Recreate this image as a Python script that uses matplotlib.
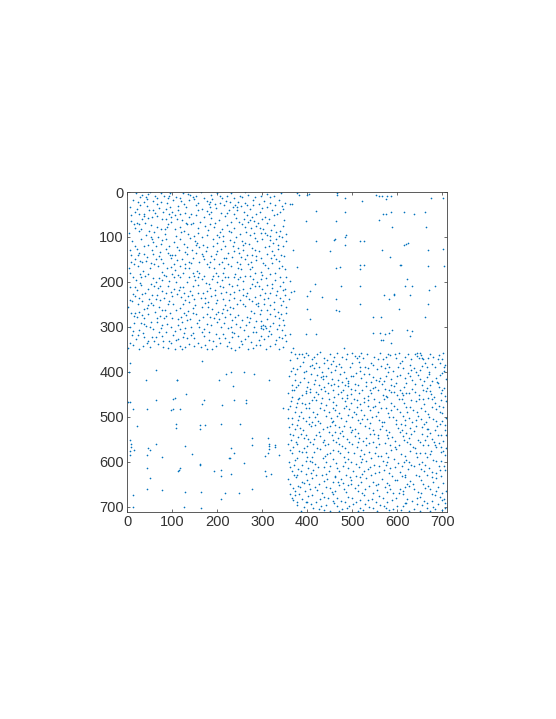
import numpy as np
import matplotlib
matplotlib.use('Agg')
import matplotlib.pyplot as plt

plt.rcParams['font.family'] = ['Liberation Sans', 'DejaVu Sans']

N = 711
xticks = [0, 100, 200, 300, 400, 500, 600, 700]
yticks = [0, 100, 200, 300, 400, 500, 600, 700]

# sparse off-diagonal blocks, read point by point
top_right = [(376,2),(381,7),(400,6),(404,5),(467,2),(467,7),(484,13),(521,21),(552,6),(560,8),(567,8),(577,8),(585,8),(674,13),
(701,13),(574,16),(361,26),(367,27),(419,42),(484,44),(569,48),(574,50),(586,44),(615,44),(637,50),(661,44),(397,64),(464,64),
(559,63),(589,77),(663,77),(486,96),(484,101),(461,104),(459,106),(419,110),(517,108),(525,110),(623,113),(619,115),(615,117),
(484,117),(368,130),(450,131),(565,130),(668,130),(701,126),(584,144),(376,167),(464,170),(472,167),(518,162),(518,172),(527,163),
(605,162),(609,162),(668,164),(704,164),(361,197),(621,193),(417,205),(474,210),(517,210),(618,210),(633,210),(684,210),(670,217),
(405,219),(370,219),(363,222),(592,226),(593,229),(570,230),(628,230),(399,231),(432,234),(463,238),(581,237),(359,237),(669,249),
(517,250),(399,260),(463,263),(470,264),(604,260),(547,278),(564,278),(661,278),(405,282),(361,315),(397,315),(419,315),(547,313),
(562,314),(573,315),(581,313),(588,307),(621,306),(633,308),(628,320),(564,329),(569,329),(585,336),(368,347),(481,347)]

bottom_left = [(6,381),(64,396),(4,401),(167,376),(219,404),(230,399),(259,399),(281,404),(41,418),(110,418),(111,418),(204,417),
(315,418),(234,431),(130,450),(2,467),(6,467),(64,463),(102,459),(105,458),(170,463),(167,471),(210,473),(238,462),(263,462),
(264,469),(347,480),(13,483),(43,483),(96,485),(101,483),(117,483),(108,516),(108,524),(21,521),(162,517),(162,526),(172,517),
(209,516),(250,516),(6,551),(8,559),(8,567),(63,559),(47,568),(50,573),(15,573),(7,576),(7,584),(44,585),(77,588),(129,564),
(144,583),(278,546),(278,563),(313,546),(314,561),(314,564),(314,572),(328,563),(329,567),(313,581),(307,587),(336,584),(230,570),
(236,580),(226,592),(228,592),(259,603),(161,604),(161,607),(208,617),(192,621),(208,632),(230,627),(306,621),(308,632),(319,627),
(117,613),(115,617),(112,621),(44,614),(50,636),(43,660),(77,662),(13,674),(129,667),(164,667),(217,670),(248,668),(278,660),
(209,683),(126,701),(164,703),(13,701)]

# dense diagonal blocks, estimated by eye
upper_left = [
(47,5),(51,1),(75,3),(82,8),(95,2),(108,11),(134,4),(139,7),(163,1),(171,13),(199,3),(207,9),(231,2),(238,14),(262,1),(268,6),(311,4),(318,12),(342,2),
(13,17),(29,11),(36,23),(58,19),(66,14),(88,24),(101,17),(119,21),(126,27),(149,16),(156,25),(183,22),(189,16),(214,28),(219,19),(245,23),(253,31),(279,18),(292,26),(304,21),(329,29),(336,17),(351,24),
(5,34),(21,38),(43,32),(49,41),(71,36),(79,45),(94,33),(113,39),(131,34),(142,48),(167,37),(176,42),(197,35),(208,46),(226,39),(234,33),(259,44),(272,37),(286,48),(299,36),(322,41),(347,38),
(9,52),(26,49),(33,61),(55,56),(62,47),(85,59),(105,52),(122,63),(136,55),(153,51),(161,66),(187,57),(203,62),(216,54),(241,58),(249,67),(266,52),(281,64),(307,55),(315,61),(333,50),(349,63),
(14,71),(18,79),(39,68),(52,74),(74,83),(90,72),(97,66),(116,77),(127,86),(146,70),(172,75),(180,85),(195,68),(222,73),(236,81),(255,71),(274,79),(291,69),(301,83),(326,74),(340,86),
(3,91),(25,87),(41,96),(60,89),(68,101),(83,93),(109,97),(120,90),(139,103),(158,91),(165,99),(191,105),(206,88),(212,97),(229,106),(251,94),(263,89),(283,102),(296,91),(317,98),(331,105),(353,93),
(11,110),(31,104),(46,117),(57,111),(77,107),(92,119),(103,112),(125,115),(133,122),(150,109),(169,117),(178,123),(200,113),(218,120),(238,111),(246,124),(270,116),(288,110),(305,122),(324,113),(345,119),
(6,130),(22,126),(36,138),(54,128),(72,133),(86,126),(100,139),(115,130),(143,128),(152,136),(174,131),(186,142),(209,127),(224,135),(233,144),(258,129),(276,140),(293,132),(310,137),(335,127),(348,143),
(16,148),(28,153),(44,145),(63,150),(80,157),(96,147),(111,152),(129,159),(147,146),(160,155),(170,150),(193,148),(204,160),(220,147),(243,156),(261,148),(269,161),(285,151),(302,158),(319,146),(338,154),
(4,169),(24,164),(35,176),(50,170),(69,165),(78,178),(98,167),(107,173),(123,181),(137,168),(155,175),(181,166),(198,179),(215,170),(231,164),(240,183),(253,172),(278,166),(297,177),(313,169),(329,181),(344,165),
(12,188),(20,195),(40,186),(56,192),(64,201),(87,186),(93,197),(118,190),(132,199),(148,187),(166,194),(175,203),(190,186),(211,196),(226,204),(236,189),(256,198),(272,186),(289,200),(308,192),(321,204),(352,190),
(7,212),(30,206),(45,216),(59,209),(76,221),(91,208),(104,215),(124,211),(140,219),(157,206),(168,224),(184,213),(205,209),(219,222),(244,207),(248,217),(267,225),(283,209),(300,216),(316,224),(339,208),(346,218),
(17,231),(33,226),(48,238),(67,228),(73,241),(99,232),(110,227),(128,240),(144,229),(163,235),(179,244),(194,230),(213,238),(228,227),(250,240),(264,232),(277,243),(294,228),(312,236),(327,245),(350,230),
(2,256),(23,250),(38,260),(53,247),(70,255),(84,262),(101,249),(117,257),(135,264),(151,252),(173,247),(188,259),(202,266),(217,251),(235,258),(257,249),(274,264),(290,254),(304,248),(325,261),(341,252),
(8,268),(14,275),(27,267),(37,281),(47,271),(61,267),(81,279),(95,270),(112,283),(130,274),(145,268),(159,285),(177,272),(192,280),(210,270),(232,284),(247,273),(265,277),(282,269),(298,286),(318,272),(336,281),(353,268),
(5,300),(15,292),(26,306),(42,297),(65,289),(75,303),(89,294),(106,308),(121,290),(141,299),(154,291),(171,305),(187,295),(199,289),(223,302),(242,293),(260,307),(271,290),(297,297),(302,295),(307,297),(308,302),(302,305),(296,302),(323,291),(332,304),(349,296),
(10,317),(19,326),(34,313),(55,322),(71,312),(79,331),(102,318),(113,327),(127,313),(149,324),(165,312),(182,329),(196,316),(216,325),(237,313),(252,331),(268,319),(286,312),(303,327),(320,316),(343,325),
(1,347),(13,340),(25,349),(43,335),(51,344),(68,338),(90,346),(97,336),(116,342),(122,350),(138,337),(164,345),(172,339),(189,349),(207,336),(221,343),(239,352),(255,338),(280,346),(295,340),(309,350),(328,337),(347,345),
(19,3),(33,7),(61,10),(124,2),(152,8),(187,6),(222,10),(255,11),(296,8),(28,30),(65,27),(112,31),(137,18),(195,26),(228,22),(265,29),(310,33),(343,31),(18,44),(67,53),(99,44),(129,46),(158,41),(184,33),(221,47),(243,41),(276,56),(295,45),(339,45),
(8,64),(45,58),(78,60),(111,60),(141,72),(171,56),(193,78),(211,82),(230,67),(259,60),(286,76),(311,70),(347,76),(30,82),(66,77),(107,83),(135,94),(176,96),(199,95),(241,100),(272,96),(294,80),(320,85),(338,97),
(17,119),(37,121),(63,121),(87,104),(118,104),(159,122),(190,119),(213,110),(254,108),(278,124),(300,104),(334,117),(352,110),(9,141),(42,153),(70,143),(106,141),(121,149),(165,138),(183,156),(214,146),(237,131),(265,139),(298,146),(322,132),(342,141),
(15,159),(33,156),(60,160),(88,168),(117,165),(136,155),(160,179),(192,170),(224,160),(251,161),(283,181),(305,163),(336,170),(6,180),(47,183),(82,184),(113,185),(145,180),(170,186),(202,186),(223,188),(262,186),(296,194),(340,188),
(28,203),(52,205),(78,195),(109,201),(127,225),(151,196),(181,205),(200,199),(233,208),(258,216),(276,205),(310,206),(332,220),(13,226),(40,225),(63,238),(86,225),(119,233),(156,224),(186,231),(208,225),(226,240),(271,238),(291,246),(330,230),
(11,243),(32,243),(58,252),(92,243),(109,263),(138,245),(167,255),(197,246),(222,262),(243,248),(285,250),(311,262),(345,243),(22,278),(52,290),(73,275),(100,281),(133,285),(153,272),(184,278),(204,283),(228,272),(255,285),(287,286),(328,276),(347,285),
(31,292),(58,305),(85,312),(118,304),(147,313),(176,294),(209,299),(233,312),(250,300),(279,312),(315,310),(336,296),(12,310),(45,332),(63,322),(93,332),(133,325),(158,335),(203,324),(226,333),(246,320),(274,334),(298,321),(336,322),(352,332),
# second pass, clumps the first pass missed
(41,12),(44,15),(90,14),(93,10),(145,12),(178,20),(181,26),(211,14),(250,8),(284,11),(325,9),(24,22),(74,22),(116,14),(240,28),(243,33),(262,24),(318,25),
(36,48),(38,53),(92,50),(96,55),(118,48),(182,48),(186,45),(237,50),(268,66),(272,62),(299,60),(325,52),(56,40),(86,38),(152,30),(205,24),(280,30),
(22,68),(25,72),(48,86),(84,82),(88,77),(130,68),(133,72),(156,80),(183,72),(226,86),(230,90),(262,78),(306,92),(310,96),(330,90),(344,100),
(52,100),(55,104),(74,115),(110,122),(148,97),(152,118),(155,114),(204,101),(234,120),(258,118),(262,114),(282,92),(314,120),(318,106),
(24,140),(27,135),(58,138),(90,135),(94,140),(128,133),(132,138),(168,142),(196,138),(200,132),(248,136),(252,144),(284,130),(287,142),(326,140),(330,150),
(8,155),(52,158),(75,150),(104,160),(128,168),(142,158),(176,160),(210,156),(212,180),(246,168),(272,172),(275,156),(316,182),(322,158),(350,172),
(28,182),(31,188),(70,192),(100,182),(104,190),(138,190),(156,188),(188,194),(218,190),(246,194),(250,188),(280,194),(300,185),(328,196),(346,200),
(18,212),(22,218),(68,214),(72,208),(114,218),(118,212),(146,208),(176,220),(194,218),(212,212),(238,222),(272,214),(292,210),(306,224),(322,214),(350,215),
(26,236),(54,230),(82,236),(96,222),(134,232),(148,238),(172,236),(200,240),(236,236),(256,230),(284,234),(304,238),(340,236),(6,240),
(44,258),(46,252),(76,262),(90,250),(124,250),(126,270),(146,258),(180,255),(212,260),(228,255),(262,254),(296,262),(318,252),(334,266),(352,256),
(18,270),(32,274),(66,280),(86,275),(120,278),(140,282),(168,278),(198,272),(218,278),(240,278),(272,280),(294,272),(310,282),(342,272),
(36,294),(50,300),(78,296),(96,300),(112,296),(128,302),(160,300),(182,312),(214,292),(230,300),(264,296),(282,300),(318,298),(344,306),
(24,318),(38,322),(60,332),(76,320),(108,330),(124,322),(142,318),(170,320),(190,332),(212,316),(232,322),(262,326),(292,330),(312,320),(330,328),(350,318),
(6,335),(34,342),(80,344),(106,349),(128,345),(148,342),(178,348),(198,342),(230,347),(248,344),(268,350),(286,340),(318,342),(338,348)
]

lower_right = [
(364,356),(372,359),(396,357),(402,363),(421,360),(428,356),(451,361),(466,358),(477,366),(499,357),(506,364),(533,359),(548,367),(561,357),(584,362),(604,358),(617,366),(643,357),(652,362),(673,360),(679,367),(702,358),
(361,373),(377,369),(390,378),(411,371),(419,381),(438,368),(458,375),(471,383),(487,371),(515,377),(523,369),(541,380),(569,372),(578,382),(596,369),(611,376),(629,384),(648,370),(661,379),(690,371),(707,384),
(368,391),(383,386),(398,397),(425,389),(433,401),(446,392),(463,387),(481,399),(494,390),(509,402),(528,388),(554,394),(564,386),(590,398),(601,389),(624,403),(638,392),(655,387),(670,399),(684,390),(699,402),
(359,410),(373,405),(392,413),(408,404),(416,418),(441,408),(455,416),(473,405),(491,419),(502,409),(520,414),(537,404),(559,420),(574,409),(587,416),(606,407),(633,418),(646,406),(667,412),(677,421),(694,407),(709,416),
(366,428),(384,422),(399,434),(414,426),(430,437),(447,424),(468,431),(478,423),(497,437),(513,428),(531,422),(545,435),(567,427),(581,439),(598,424),(615,433),(639,426),(657,440),(672,429),(688,422),(703,436),
(357,446),(371,441),(389,452),(405,444),(423,450),(440,442),(459,455),(475,445),(489,451),(506,441),(525,457),(542,447),(556,441),(575,453),(593,444),(610,459),(627,446),(649,452),(664,443),(681,456),(697,447),
(363,464),(379,459),(394,472),(411,462),(431,468),(449,460),(464,474),(483,465),(503,459),(518,472),(535,463),(551,476),(570,461),(585,470),(603,460),(620,477),(641,464),(659,471),(676,461),(692,476),(708,465),
(356,483),(375,478),(387,490),(404,481),(422,494),(436,484),(457,479),(470,492),(492,483),(510,478),(527,495),(539,485),(563,479),(579,491),(599,482),(612,497),(634,485),(652,479),(668,494),(686,483),(700,492),
(367,502),(381,498),(397,509),(417,500),(429,513),(452,503),(466,497),(486,510),(499,500),(517,514),(532,504),(553,498),(571,511),(590,501),(608,515),(625,503),(645,498),(663,512),(679,504),(695,516),
(360,522),(376,518),(391,530),(409,520),(426,533),(443,523),(461,517),(477,531),(495,522),(512,535),(529,519),(547,528),(566,520),(582,534),(601,524),(618,518),(637,532),(654,523),(673,536),(689,521),(705,530),
(369,541),(385,537),(402,549),(420,540),(437,552),(454,541),(472,536),(488,550),(507,542),(523,554),(540,538),(558,547),(576,539),(594,553),(613,543),(630,537),(647,551),(665,542),(682,555),(698,540),
(358,561),(374,556),(393,568),(412,559),(428,571),(445,560),(463,555),(484,570),(500,561),(519,574),(536,557),(552,566),(572,558),(586,573),(604,563),(622,556),(640,570),(658,562),(675,575),(693,558),(709,569),
(365,580),(382,576),(399,588),(415,578),(434,591),(450,581),(469,575),(481,589),(504,580),(522,593),(538,577),(556,586),(574,579),(592,594),(609,583),(628,576),(644,590),(661,581),(680,595),(696,578),
(359,600),(372,596),(389,607),(407,598),(424,611),(441,599),(458,594),(479,609),(496,600),(514,612),(531,597),(549,606),(568,598),(583,613),(602,603),(619,596),(636,610),(655,601),(671,614),(687,598),(704,608),
(366,620),(380,615),(396,627),(413,617),(432,630),(448,619),(465,614),(485,628),(501,620),(516,633),(534,616),(550,625),(570,618),(589,632),(606,622),(624,615),(642,629),(660,620),(678,634),(694,617),
(358,638),(375,634),(392,646),(410,636),(427,649),(444,638),(461,633),(480,647),(497,639),(513,651),(530,635),(546,644),(565,637),(581,651),(600,641),(616,634),(635,648),(652,639),(669,653),(686,636),(702,646),
(368,657),(379,653),(394,664),(416,655),(433,668),(451,657),(470,652),(487,666),(505,658),(521,670),(537,654),(555,663),(573,656),(590,670),(607,660),(626,653),(645,667),(662,658),(677,672),(691,655),(708,665),
(362,672),(365,681),(372,674),(388,682),(401,676),(419,688),(436,677),(456,672),(474,686),(491,678),(509,690),(525,673),(543,683),(560,675),(578,689),(597,679),(613,672),(633,686),(650,677),(666,691),(684,674),(699,684),
(376,695),(392,701),(408,694),(425,705),(442,696),(459,692),(476,704),(493,697),(512,708),(528,693),(546,702),(562,695),(582,707),(599,698),(617,692),(636,704),(654,696),(672,708),(690,694),(705,702),
(381,361),(415,367),(444,374),(489,361),(520,358),(556,372),(594,360),(623,359),(658,372),(693,362),(378,394),(405,386),(437,379),(461,395),(500,379),(534,392),(573,392),(607,381),(631,395),(665,389),(695,380),
(392,401),(421,406),(453,400),(485,413),(516,397),(546,411),(580,400),(616,414),(641,399),(671,405),(704,398),(373,418),(401,422),(434,415),(452,429),(484,428),(507,426),(541,422),(562,414),(592,431),(620,424),(650,415),(685,414),
(375,433),(407,437),(438,433),(456,440),(491,431),(522,440),(551,433),(573,437),(606,441),(632,437),(666,436),(692,434),(366,455),(398,447),(414,455),(432,458),(469,449),(498,449),(534,453),(568,451),(599,452),(620,447),(657,460),(674,449),(705,454),
(377,469),(403,470),(441,474),(476,458),(496,470),(525,467),(559,466),(592,475),(615,468),(648,461),(684,470),(372,490),(396,481),(413,489),(449,489),(481,481),(519,485),(546,478),(574,481),(605,490),(628,478),(661,487),(702,478),
(357,503),(390,503),(410,512),(441,498),(474,503),(508,493),(522,505),(560,506),(582,499),(616,507),(641,507),(671,499),(708,503),(372,526),(403,516),(435,527),(455,512),(471,522),(505,527),(539,513),(561,527),(597,515),(628,525),(659,515),(684,528),(699,510),
(380,545),(396,540),(414,548),(448,533),(469,546),(498,534),(515,547),(548,537),(580,547),(606,533),(625,547),(666,527),(690,540),(363,552),(405,555),(439,563),(470,560),(492,556),(531,562),(545,555),(583,562),(615,551),(650,556),(669,563),(702,553),
(369,567),(388,578),(421,569),(456,574),(473,581),(511,566),(527,582),(564,587),(597,571),(634,567),(650,580),(687,566),(707,585),(378,592),(410,600),(439,586),(463,603),(490,593),(508,604),(541,591),(577,600),(614,601),(648,605),(666,590),(698,597),
(361,612),(386,620),(402,614),(436,612),(471,620),(491,613),(526,621),(559,610),(595,612),(630,607),(653,615),(685,625),(371,628),(399,639),(420,630),(456,644),(475,637),(508,632),(541,630),(576,647),(611,631),(629,642),(665,629),(697,632),
(384,655),(405,660),(441,655),(462,664),(498,650),(528,660),(552,652),(584,659),(618,656),(637,659),(672,660),(700,668),(381,672),(411,673),(447,681),(466,680),(499,680),(534,685),(568,681),(604,670),(622,682),(659,686),(695,677),(707,692),
(400,690),(430,697),(466,698),(502,694),(536,700),(571,697),(608,707),(644,693),(679,699),(700,707),(386,708),(451,708),(518,702),(555,709),(590,704),(625,709),(665,703),
# second pass, clumps the first pass missed
(640,360),(644,364),(650,358),(655,368),(388,360),(392,366),(460,366),(510,370),(514,365),(575,366),(580,359),(630,372),(668,368),(700,372),
(410,385),(414,392),(452,382),(475,388),(518,390),(546,385),(582,388),(612,392),(650,396),(678,382),(704,390),(364,398),(430,412),(434,408),
(468,418),(498,410),(526,404),(552,418),(570,420),(600,410),(628,408),(660,420),(690,424),(380,428),(426,430),(460,426),(490,424),(530,432),(586,428),(654,430),
(366,440),(396,442),(420,444),(446,446),(480,440),(514,446),(540,440),(585,444),(610,446),(640,444),(672,442),(700,440),(382,458),(420,462),(456,466),(488,458),(510,462),(548,460),(578,456),(612,452),(630,462),(668,458),(696,462),
(362,476),(388,468),(428,480),(462,484),(486,476),(504,488),(534,476),(556,490),(586,484),(622,490),(644,488),(676,478),(694,488),(380,506),(404,500),(424,508),(458,510),(490,496),(512,506),(544,500),(566,512),(596,506),(632,512),(652,504),(686,510),
(366,516),(384,524),(416,518),(450,520),(482,520),(500,530),(536,524),(574,530),(610,528),(642,520),(668,526),(706,518),(362,538),(392,546),(428,542),(462,534),(480,542),(530,546),(556,540),(588,544),(620,536),(654,538),(676,548),(708,540),
(378,560),(400,564),(434,556),(456,552),(476,564),(512,556),(560,560),(594,566),(628,560),(662,552),(684,562),(698,566),(362,574),(398,578),(410,590),(444,582),(490,578),(516,586),(550,580),(580,590),(618,586),(642,580),(672,582),(702,576),
(370,606),(398,598),(418,604),(450,608),(484,600),(520,600),(540,612),(574,606),(610,608),(626,600),(662,606),(692,608),(378,628),(408,624),(442,626),(462,632),(494,634),(522,626),(560,622),(582,624),(618,628),(648,632),(676,622),(706,618),
(362,648),(388,644),(404,650),(438,642),(468,644),(490,652),(520,644),(558,650),(594,640),(622,648),(658,650),(680,644),(372,664),(422,662),(454,666),(482,660),(512,664),(546,670),(578,666),(612,664),(652,668),(686,664),(368,684),(376,688),(396,690),
(428,682),(456,686),(484,690),(518,684),(552,690),(588,684),(620,692),(644,680),(676,686),(704,682),(412,702),(438,706),(470,708),(488,702),(524,706),(574,702),(612,698),(650,708),(684,704)
]

all_points = np.array(top_right + bottom_left + upper_left + lower_right)

fig = plt.figure(figsize=(5.56, 7.19), dpi=100)
ax = fig.add_axes([127.3 / 556, 1 - 511.9 / 719, 320 / 556, 319.9 / 719])
line, = ax.plot(all_points[:, 0], all_points[:, 1], linestyle='none', marker='o', markersize=1.2,
                markeredgewidth=0, color='#0072BD')
line.set_snap(False)
ax.set_xlim(0, N)
ax.set_ylim(N, 0)
ax.set_xticks(xticks)
ax.set_yticks(yticks)
ax.tick_params(direction='in', length=2.3, width=0.5, top=True, right=True, labelsize=10.5,
               colors='#333333', pad=2.5)
for s in ax.spines.values():
    s.set_linewidth(0.6)
    s.set_color('#404040')

fig.savefig('out.png', dpi=100)
